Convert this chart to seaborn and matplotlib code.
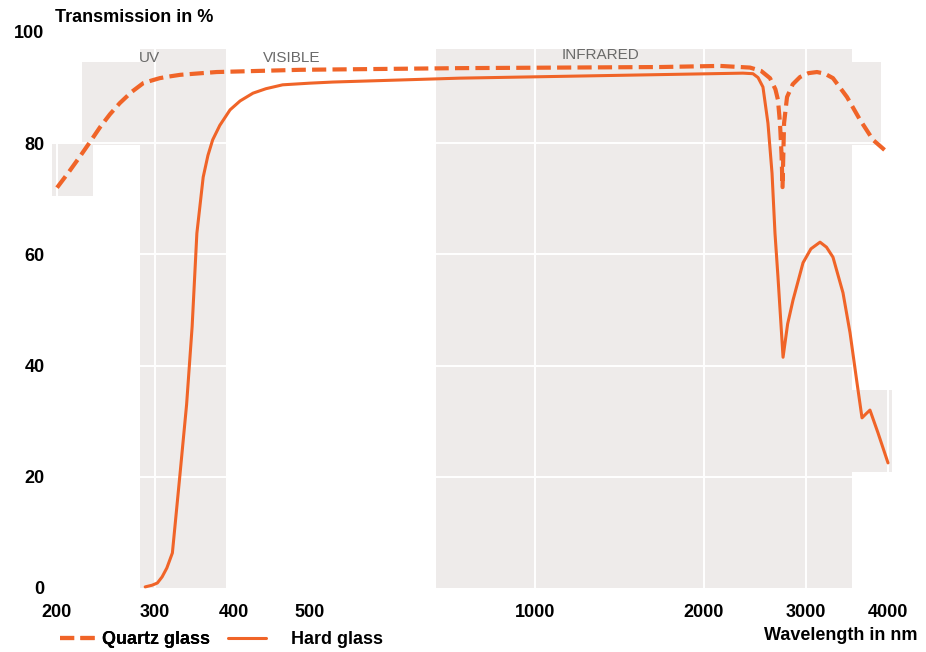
import numpy as np
import pandas as pd
import matplotlib.pyplot as plt
import seaborn as sns
from matplotlib.lines import Line2D

# the printed wavelength axis is neither linear nor log,
# so it is rebuilt piecewise from where its labelled ticks sit
scale_nm = [100, 200, 300, 400, 500, 1000, 2000, 3000, 4000, 5000]
scale_pos = [-41, 57, 155, 234, 310, 535, 704, 806, 888, 970]

quartz_nm = [200, 212, 223, 234, 244, 254, 264, 276, 288, 297, 306, 318, 332,
             378, 487, 833, 1740, 2157, 2451, 2560, 2647, 2700, 2725, 2745,
             2760, 2770, 2785, 2814, 2870, 2941, 3030, 3134, 3230, 3329, 3500,
             3659, 3817, 3988]
quartz_pct = [72.0, 74.8, 77.5, 80.3, 82.9, 85.2, 87.2, 89.2, 90.8, 91.3, 91.7,
              92.0, 92.3, 92.8, 93.2, 93.5, 93.7, 93.9, 93.6, 93.0, 91.7, 89.7,
              87.8, 83.6, 78.0, 72.1, 83.6, 88.3, 90.6, 91.9, 92.6, 92.8, 92.5,
              91.7, 88.3, 84.2, 80.6, 78.4]

hard_nm = [290, 297, 303, 309, 315, 322, 332, 340, 347, 353, 361, 367, 373, 382,
           395, 408, 425, 442, 464, 500, 551, 833, 2382, 2480, 2530, 2578, 2627,
           2667, 2696, 2725, 2775, 2820, 2873, 2971, 3060, 3171, 3250, 3329,
           3451, 3537, 3622, 3683, 3730, 3780, 3878, 4000]
hard_pct = [0.2, 0.5, 0.9, 2.0, 3.6, 6.3, 21.0, 33.0, 47.0, 63.8, 73.9, 77.8,
            80.6, 83.2, 86.0, 87.6, 89.0, 89.8, 90.5, 90.8, 91.0, 91.7, 92.6,
            92.5, 91.8, 90.1, 83.6, 74.6, 63.8, 56.0, 41.5, 47.5, 51.8, 58.5,
            61.0, 62.2, 61.3, 59.5, 53.1, 45.9, 36.9, 30.6, 31.3, 32.0, 27.9,
            22.5]

xticks = [200, 300, 400, 500, 1000, 2000, 3000, 4000]
yticks = [0, 20, 40, 60, 80, 100]
glass_names = ["Quartz glass", "Hard glass"]

orange = "#f06428"
shade = "#eeebea"

df = pd.concat([
    pd.DataFrame({"nm": quartz_nm, "pct": quartz_pct, "glass": glass_names[0]}),
    pd.DataFrame({"nm": hard_nm, "pct": hard_pct, "glass": glass_names[1]}),
])


def fwd(x):
    return np.interp(x, scale_nm, scale_pos)


def inv(p):
    return np.interp(p, scale_pos, scale_nm)


sns.set_style("white")
plt.rcParams["font.family"] = ["Liberation Sans", "DejaVu Sans"]
plt.rcParams["text.color"] = "black"
plt.rcParams["xtick.color"] = "black"
plt.rcParams["ytick.color"] = "black"

W, H = 926, 652
fig = plt.figure(figsize=(W / 100, H / 100), dpi=100)
left, right, top, bottom = 50, 900, 20, 600
ax = fig.add_axes([left / W, 1 - bottom / H, (right - left) / W, (bottom - top) / H])
ax.set_xscale("function", functions=(fwd, inv))
ax.set_xlim(inv(left), inv(right))
ax.set_ylim((588 - bottom) / 5.56, (588 - top) / 5.56)

# shaded UV / IR bands, plus the patchy bits of the scanned print
ax.fill_between([285, 390], 0, 97, color=shade, lw=0, zorder=0)
ax.fill_between([780, 3560], 0, 97, color=shade, lw=0, zorder=0)
ax.fill_between([226, 285], 79.7, 94.6, color=shade, lw=0, zorder=0)
ax.fill_between([195, 237], 70.5, 79.9, color=shade, lw=0, zorder=0)
ax.fill_between([3560, 3920], 79.7, 94.6, color=shade, lw=0, zorder=0)
ax.fill_between([3560, 4050], 20.9, 35.6, color=shade, lw=0, zorder=0)

for y in yticks[1:-1]:
    ax.axhline(y, color="white", lw=1.4, zorder=0.5)
for x in xticks:
    ax.axvline(x, color="white", lw=1.4, zorder=0.5)

sns.lineplot(data=df, x="nm", y="pct", style="glass", size="glass",
             dashes={glass_names[0]: (3.4, 1.5), glass_names[1]: ""},
             sizes={glass_names[0]: 3.0, glass_names[1]: 2.2},
             color=orange, estimator=None, sort=False, legend=False, ax=ax, zorder=3)

for s in ax.spines.values():
    s.set_visible(False)
ax.set_xticks(xticks)
ax.set_xticklabels([str(t) for t in xticks])
ax.set_yticks(yticks)
ax.set_yticklabels([str(t) for t in yticks])
ax.minorticks_off()
ax.tick_params(length=0, labelsize=13)
ax.tick_params(axis="y", pad=4)
ax.tick_params(axis="x", pad=3)
for lab in ax.get_xticklabels() + ax.get_yticklabels():
    lab.set_fontweight("bold")
ax.set_xlabel("")
ax.set_ylabel("")
ax.grid(False)

ax.text(294, 95.3, "UV", ha="center", va="center", fontsize=11, color="#6a6a6a")
ax.text(476, 95.3, "VISIBLE", ha="center", va="center", fontsize=11, color="#6a6a6a")
ax.text(1385, 95.9, "INFRARED", ha="center", va="center", fontsize=11, color="#6a6a6a")

fig.text(55 / W, 1 - 18 / H, "Transmission in %", ha="left", va="center",
         fontsize=13, fontweight="bold")
fig.text(918 / W, 1 - 636 / H, "Wavelength in nm", ha="right", va="center",
         fontsize=13, fontweight="bold")

# two one-entry legends so each text sits where the print has it
leg_q = fig.legend([Line2D([], [], color=orange, lw=3.0, dashes=(3.4, 1.5))],
                   [glass_names[0]], loc="center left",
                   bbox_to_anchor=(60 / W, 1 - 640 / H), frameon=False,
                   borderpad=0, borderaxespad=0, handlelength=2.1,
                   handletextpad=0.2, prop={"size": 13, "weight": "bold"})
fig.add_artist(leg_q)
fig.legend([Line2D([], [], color=orange, lw=2.2)], [glass_names[1]],
           loc="center left", bbox_to_anchor=(228 / W, 1 - 640 / H),
           frameon=False, borderpad=0, borderaxespad=0, handlelength=2.1,
           handletextpad=1.4, prop={"size": 13, "weight": "bold"})

fig.savefig("out.png", dpi=100)
